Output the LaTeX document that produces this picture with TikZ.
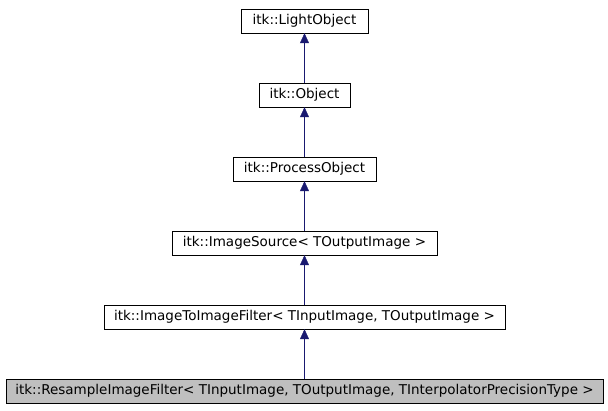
\documentclass[tikz,border=0pt]{standalone}
\usepackage{fontspec}
\setmainfont{DejaVu Sans}
\usetikzlibrary{arrows.meta}
\begin{document}
\begin{tikzpicture}[x=1pt,y=-1pt,
  cls/.style={draw=black,fill=white,inner sep=0pt,minimum height=24pt,font=\fontsize{13.5}{15}\selectfont},
  inh/.style={draw=navyc,-{Triangle[length=10pt,width=9pt,fill=navyc]}}]
\definecolor{navyc}{RGB}{25,25,112}
\useasboundingbox (0,0) rectangle (608,411);
\node[cls,minimum width=127pt] (a) at (304.5,21) {itk::LightObject};
\node[cls,minimum width=91pt] (b) at (304.5,95) {itk::Object};
\node[cls,minimum width=143pt] (c) at (304.5,169) {itk::ProcessObject};
\node[cls,minimum width=265pt] (d) at (304.5,243) {itk::ImageSource< TOutputImage >};
\node[cls,minimum width=401pt] (e) at (304.5,317) {itk::ImageToImageFilter< TInputImage, TOutputImage >};
\node[cls,fill={rgb,255:red,191;green,191;blue,191},minimum width=597pt] (f) at (304.5,391) {itk::ResampleImageFilter< TInputImage, TOutputImage, TInterpolatorPrecisionType >};
\draw[inh] (b) -- (a);
\draw[inh] (c) -- (b);
\draw[inh] (d) -- (c);
\draw[inh] (e) -- (d);
\draw[inh] (f) -- (e);
\end{tikzpicture}
\end{document}
